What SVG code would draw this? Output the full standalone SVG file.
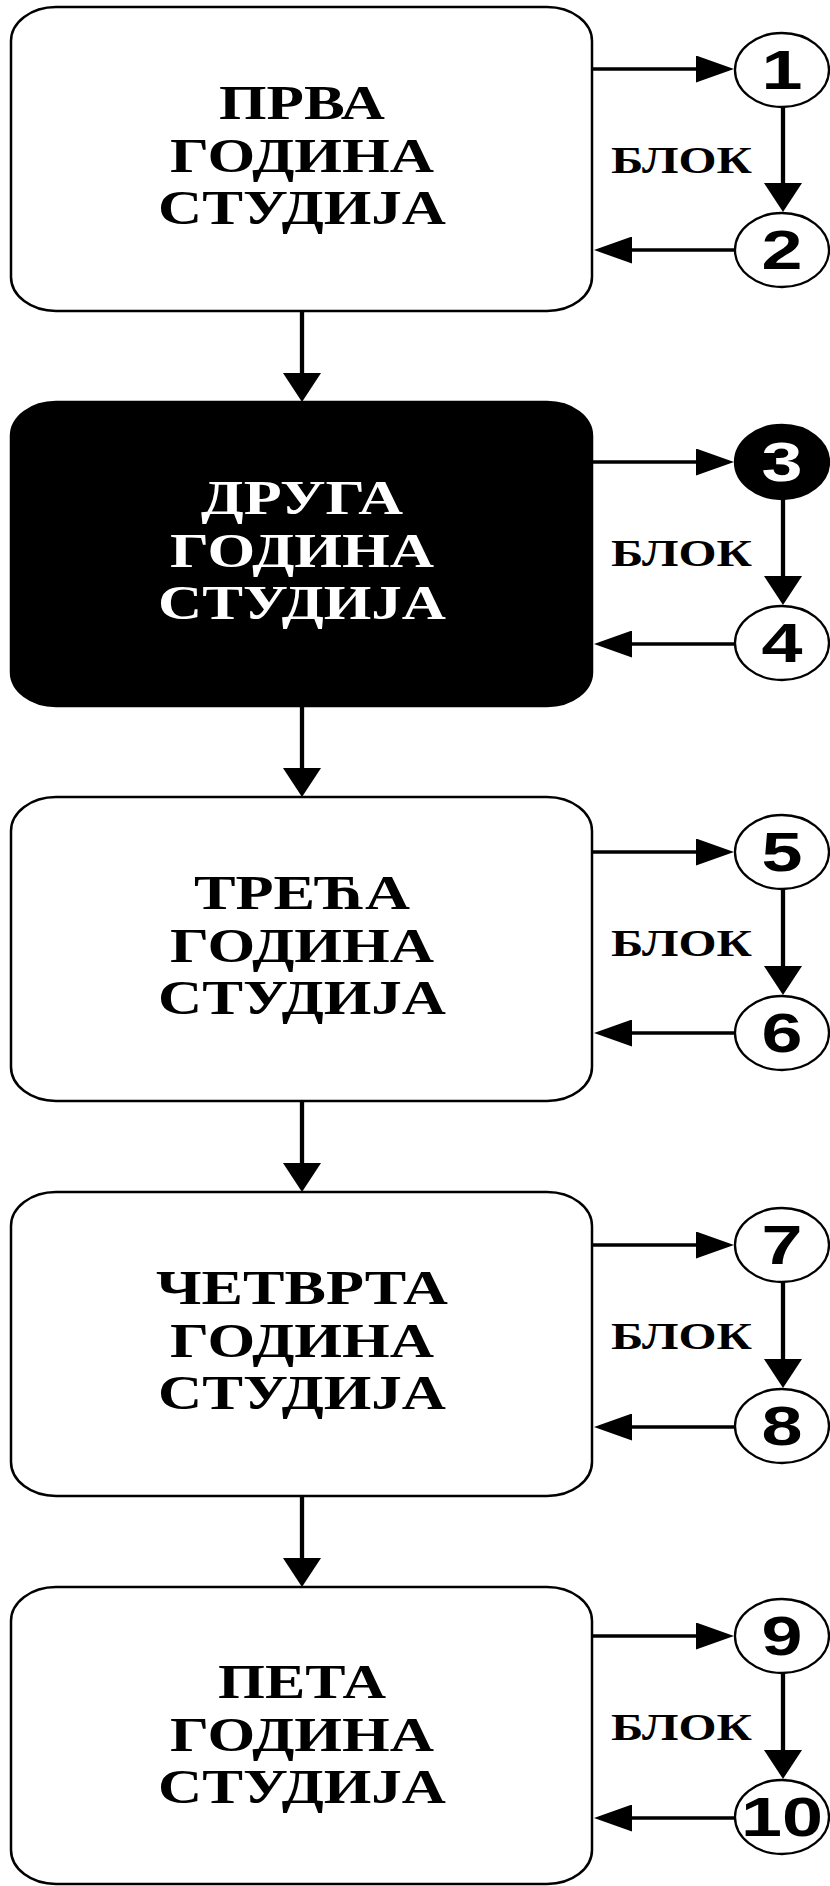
<svg xmlns="http://www.w3.org/2000/svg" width="830" height="1886" viewBox="0 0 830 1886">
<style>
.box{fill:#fff;stroke:#000;stroke-width:2.5}
.box.dark{fill:#000}
.t{font-family:"Liberation Serif","Times New Roman",serif;font-weight:bold;font-size:48px;text-anchor:middle;fill:#000}
.t.w{fill:#fff}
.blk{font-family:"Liberation Serif","Times New Roman",serif;font-weight:bold;font-size:37px;fill:#000}
.c{fill:#fff;stroke:#000;stroke-width:2.3}
.c.dark{fill:#000}
.n{font-family:"Liberation Sans",Arial,sans-serif;font-weight:bold;font-size:55px;text-anchor:middle;fill:#000}
.n.w{fill:#fff}
.h{stroke:#000;stroke-width:3.4;fill:none}
.v{stroke:#000;stroke-width:4.3;fill:none}
</style>
<defs>
<marker id="mh" markerUnits="userSpaceOnUse" viewBox="0 0 38 27" refX="1" refY="13.5" markerWidth="38" markerHeight="27" orient="auto"><path d="M0,0 L38,13.5 L0,27 z" fill="#000"/></marker>
<marker id="mv" markerUnits="userSpaceOnUse" viewBox="0 0 29 38" refX="1" refY="19" markerWidth="29" markerHeight="38" orient="auto"><path d="M0,0 L29,19 L0,38 z" fill="#000"/></marker>
</defs>

<g id="year1">
<rect class="box" x="11" y="7" width="581" height="304" rx="45" ry="34"/>
<text class="t" x="302" y="119" textLength="166" lengthAdjust="spacingAndGlyphs">ПРВА</text>
<text class="t" x="302" y="172" textLength="264" lengthAdjust="spacingAndGlyphs">ГОДИНА</text>
<text class="t" x="302" y="224" textLength="288" lengthAdjust="spacingAndGlyphs">СТУДИЈА</text>
</g>
<g id="year2">
<rect class="box dark" x="11" y="402" width="581" height="304" rx="45" ry="34"/>
<text class="t w" x="302" y="514" textLength="202" lengthAdjust="spacingAndGlyphs">ДРУГА</text>
<text class="t w" x="302" y="567" textLength="264" lengthAdjust="spacingAndGlyphs">ГОДИНА</text>
<text class="t w" x="302" y="619" textLength="288" lengthAdjust="spacingAndGlyphs">СТУДИЈА</text>
</g>
<g id="year3">
<rect class="box" x="11" y="797" width="581" height="304" rx="45" ry="34"/>
<text class="t" x="302" y="909" textLength="216" lengthAdjust="spacingAndGlyphs">ТРЕЋА</text>
<text class="t" x="302" y="962" textLength="264" lengthAdjust="spacingAndGlyphs">ГОДИНА</text>
<text class="t" x="302" y="1014" textLength="288" lengthAdjust="spacingAndGlyphs">СТУДИЈА</text>
</g>
<g id="year4">
<rect class="box" x="11" y="1192" width="581" height="304" rx="45" ry="34"/>
<text class="t" x="302" y="1304" textLength="292" lengthAdjust="spacingAndGlyphs">ЧЕТВРТА</text>
<text class="t" x="302" y="1357" textLength="264" lengthAdjust="spacingAndGlyphs">ГОДИНА</text>
<text class="t" x="302" y="1409" textLength="288" lengthAdjust="spacingAndGlyphs">СТУДИЈА</text>
</g>
<g id="year5">
<rect class="box" x="11" y="1587" width="581" height="297" rx="45" ry="34"/>
<text class="t" x="302" y="1698" textLength="168" lengthAdjust="spacingAndGlyphs">ПЕТА</text>
<text class="t" x="302" y="1751" textLength="264" lengthAdjust="spacingAndGlyphs">ГОДИНА</text>
<text class="t" x="302" y="1803" textLength="288" lengthAdjust="spacingAndGlyphs">СТУДИЈА</text>
</g>

<g id="c1"><ellipse class="c" cx="782" cy="70" rx="47" ry="37"/><text class="n" x="782" y="89" textLength="41" lengthAdjust="spacingAndGlyphs">1</text></g>
<g id="c2"><ellipse class="c" cx="782" cy="250" rx="47" ry="37"/><text class="n" x="782" y="269" textLength="41" lengthAdjust="spacingAndGlyphs">2</text></g>
<g id="c3"><ellipse class="c dark" cx="782" cy="462" rx="47" ry="37"/><text class="n w" x="782" y="481" textLength="41" lengthAdjust="spacingAndGlyphs">3</text></g>
<g id="c4"><ellipse class="c" cx="782" cy="643" rx="47" ry="37"/><text class="n" x="782" y="662" textLength="41" lengthAdjust="spacingAndGlyphs">4</text></g>
<g id="c5"><ellipse class="c" cx="782" cy="852" rx="47" ry="37"/><text class="n" x="782" y="871" textLength="41" lengthAdjust="spacingAndGlyphs">5</text></g>
<g id="c6"><ellipse class="c" cx="782" cy="1033" rx="47" ry="37"/><text class="n" x="782" y="1052" textLength="41" lengthAdjust="spacingAndGlyphs">6</text></g>
<g id="c7"><ellipse class="c" cx="782" cy="1245" rx="47" ry="37"/><text class="n" x="782" y="1264" textLength="41" lengthAdjust="spacingAndGlyphs">7</text></g>
<g id="c8"><ellipse class="c" cx="782" cy="1426" rx="47" ry="37"/><text class="n" x="782" y="1445" textLength="41" lengthAdjust="spacingAndGlyphs">8</text></g>
<g id="c9"><ellipse class="c" cx="782" cy="1636" rx="47" ry="37"/><text class="n" x="782" y="1655" textLength="41" lengthAdjust="spacingAndGlyphs">9</text></g>
<g id="c10"><ellipse class="c" cx="782" cy="1817" rx="47" ry="37"/><text class="n" x="782" y="1836" textLength="82" lengthAdjust="spacingAndGlyphs">10</text></g>

<g id="labels">
<text class="blk" x="611" y="173" textLength="141" lengthAdjust="spacingAndGlyphs">БЛОК</text>
<text class="blk" x="611" y="566" textLength="141" lengthAdjust="spacingAndGlyphs">БЛОК</text>
<text class="blk" x="611" y="956" textLength="141" lengthAdjust="spacingAndGlyphs">БЛОК</text>
<text class="blk" x="611" y="1349" textLength="141" lengthAdjust="spacingAndGlyphs">БЛОК</text>
<text class="blk" x="611" y="1740" textLength="141" lengthAdjust="spacingAndGlyphs">БЛОК</text>
</g>

<g id="connectors">
<line class="v" x1="302" y1="311" x2="302" y2="374" marker-end="url(#mv)"/>
<line class="v" x1="302" y1="706" x2="302" y2="769" marker-end="url(#mv)"/>
<line class="v" x1="302" y1="1101" x2="302" y2="1164" marker-end="url(#mv)"/>
<line class="v" x1="302" y1="1496" x2="302" y2="1559" marker-end="url(#mv)"/>

<line class="h" x1="592" y1="69" x2="697" y2="69" marker-end="url(#mh)"/>
<line class="v" x1="783" y1="107" x2="783" y2="184" marker-end="url(#mv)"/>
<line class="h" x1="735" y1="250" x2="631" y2="250" marker-end="url(#mh)"/>

<line class="h" x1="592" y1="462" x2="697" y2="462" marker-end="url(#mh)"/>
<line class="v" x1="783" y1="499" x2="783" y2="577" marker-end="url(#mv)"/>
<line class="h" x1="735" y1="644" x2="631" y2="644" marker-end="url(#mh)"/>

<line class="h" x1="592" y1="852" x2="697" y2="852" marker-end="url(#mh)"/>
<line class="v" x1="783" y1="889" x2="783" y2="967" marker-end="url(#mv)"/>
<line class="h" x1="735" y1="1033" x2="631" y2="1033" marker-end="url(#mh)"/>

<line class="h" x1="592" y1="1245" x2="697" y2="1245" marker-end="url(#mh)"/>
<line class="v" x1="783" y1="1282" x2="783" y2="1360" marker-end="url(#mv)"/>
<line class="h" x1="735" y1="1427" x2="631" y2="1427" marker-end="url(#mh)"/>

<line class="h" x1="592" y1="1636" x2="697" y2="1636" marker-end="url(#mh)"/>
<line class="v" x1="783" y1="1673" x2="783" y2="1751" marker-end="url(#mv)"/>
<line class="h" x1="735" y1="1818" x2="631" y2="1818" marker-end="url(#mh)"/>
</g>
</svg>
